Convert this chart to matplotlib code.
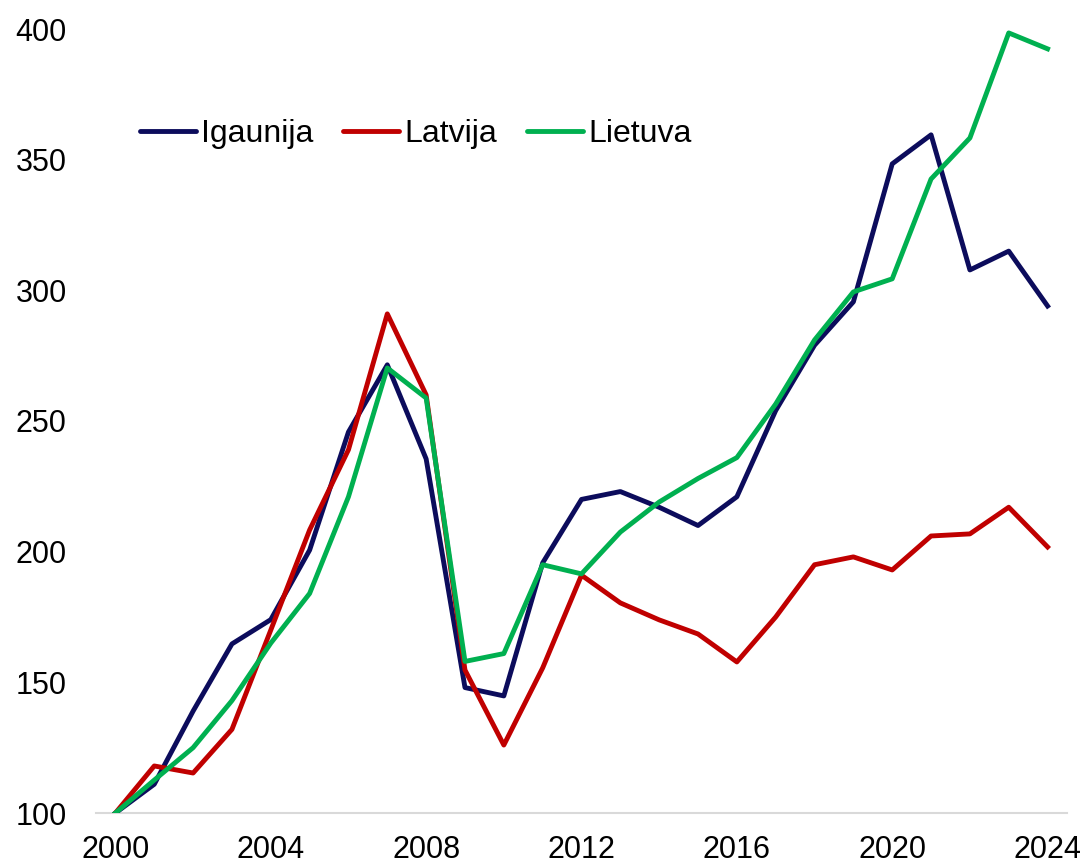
import numpy as np
import matplotlib.pyplot as plt

plt.rcParams['font.family'] = ['Liberation Sans', 'DejaVu Sans']

years = np.arange(2000, 2025)
igaunija = [100, 111, 139, 164.7, 174, 200.6, 245.8, 271.5, 235.5, 148, 144.8, 195.7, 220,
            223, 217, 210, 221, 254, 279, 295.6, 348.4, 359.5, 307.8, 315, 294]
latvija = [100, 118, 115.3, 132, 170, 208.3, 239, 291, 260, 154.7, 126, 155.5, 191,
           180.4, 173.9, 168.5, 157.8, 175, 195, 198, 193, 206, 206.8, 217, 201.8]
lietuva = [100, 112.6, 125, 143, 165, 184, 221, 270.3, 258.8, 158, 161, 195, 191.5,
           207.5, 219, 228, 236, 256.5, 281, 299.4, 304.4, 342.6, 358.3, 398.5, 392.4]

fig = plt.figure(figsize=(10.87, 8.65), dpi=100)
ax = fig.add_axes([96/1087, 1-813/865, (1067-96)/1087, (813-29)/865])

ax.plot(years, igaunija, color='#0C0C5C', lw=3.5, label='Igaunija', solid_joinstyle='round')
ax.plot(years, latvija, color='#C00000', lw=3.5, label='Latvija', solid_joinstyle='round')
ax.plot(years, lietuva, color='#00B050', lw=3.5, label='Lietuva', solid_joinstyle='round')

ax.set_xlim(1999.5, 2024.5)
ax.set_ylim(100, 400)
ax.set_xticks(np.arange(2000, 2025, 4))
ax.set_yticks(np.arange(100, 401, 50))
ax.tick_params(axis='both', length=0, labelsize=22)
ax.tick_params(axis='y', pad=21)
ax.tick_params(axis='x', pad=16)
for s in ['top', 'right', 'left']:
    ax.spines[s].set_visible(False)
ax.spines['bottom'].set_color('#D9D9D9')
ax.spines['bottom'].set_linewidth(1.5)
ax.spines['bottom'].set_zorder(0)

leg = ax.legend(loc='center left', bbox_to_anchor=(140/1087, 1-134/865),
                bbox_transform=fig.transFigure, ncol=3, frameon=False, fontsize=23,
                handlelength=1.75, handletextpad=0.16, columnspacing=0.94,
                borderpad=0, borderaxespad=0)
for l in leg.get_lines():
    l.set_solid_capstyle('round')

fig.savefig('out.png', dpi=100)
